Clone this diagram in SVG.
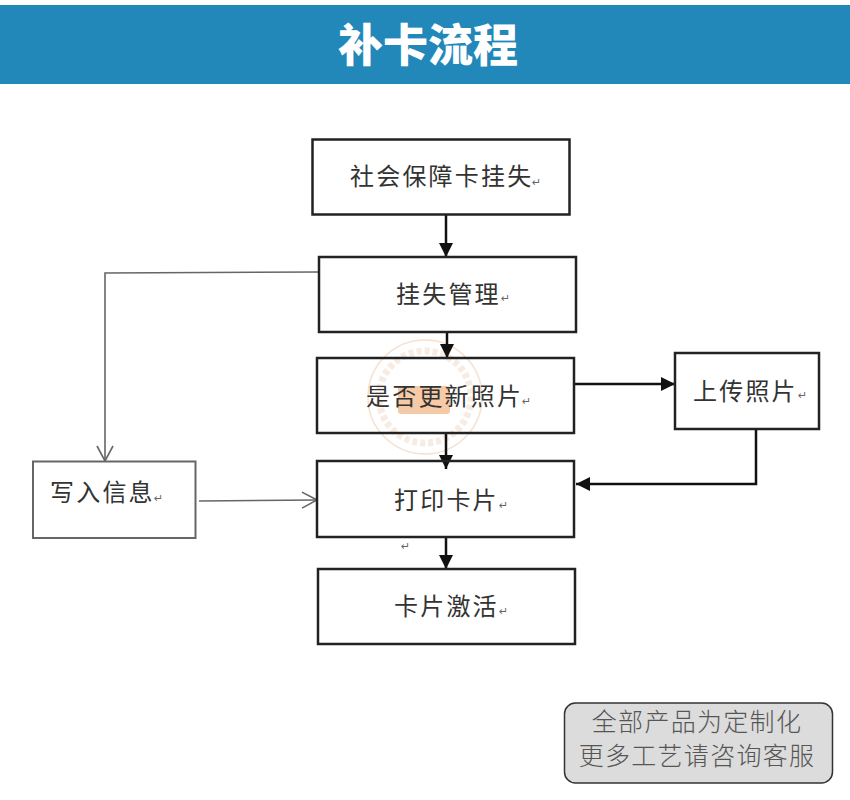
<svg xmlns="http://www.w3.org/2000/svg" width="850" height="800" viewBox="0 0 850 800">
<style>
.box{fill:none;stroke:#222;stroke-width:2.5}
.lbl{font-family:"Noto Sans CJK SC","Liberation Sans",sans-serif;font-size:24px;fill:#333;letter-spacing:2.2px}
.pm{font-family:"DejaVu Sans",sans-serif;font-size:11px;fill:#666}
.note{font-family:"Noto Sans CJK SC","Liberation Sans",sans-serif;font-size:25px;font-weight:300;fill:#555;text-anchor:middle;letter-spacing:1.3px}
.thick{fill:none;stroke:#111;stroke-width:2.5}
.thin{fill:none;stroke:#666;stroke-width:1.6}
</style>
<defs>
<marker id="solid" markerUnits="userSpaceOnUse" markerWidth="15" markerHeight="14" refX="14" refY="7" orient="auto"><path d="M0 0L14 7L0 14Z" fill="#111"/></marker>
<marker id="open" markerUnits="userSpaceOnUse" markerWidth="17" markerHeight="18" refX="16" refY="9" orient="auto"><path d="M1 1L16 9L1 17" fill="none" stroke="#666" stroke-width="1.6"/></marker>
</defs>
<rect x="0" y="0" width="850" height="800" fill="#fff"/>
<g id="header">
<rect x="0" y="5" width="850" height="79" fill="#2288b9"/>
<text x="428" y="62" text-anchor="middle" font-family="'Noto Sans CJK SC',sans-serif" font-size="45" font-weight="900" fill="#fff">补卡流程</text>
</g>
<g id="watermark" opacity="0.55">
<circle cx="425" cy="397" r="57" fill="none" stroke="#eec9ad" stroke-width="1.5"/>
<circle cx="425" cy="397" r="46" fill="none" stroke="#f3dccb" stroke-width="7" stroke-dasharray="5 3"/>
<rect x="398" y="386" width="52" height="28" rx="3" fill="#f0a060"/>
</g>
<g id="connectors">
<path class="thick" d="M446 214V257" marker-end="url(#solid)"/>
<path class="thick" d="M447 332V358" marker-end="url(#solid)"/>
<path class="thick" d="M574 384H675" marker-end="url(#solid)"/>
<path class="thick" d="M446 433V469" marker-end="url(#solid)"/>
<path class="thick" d="M756 429V484H576" marker-end="url(#solid)"/>
<path class="thick" d="M446 537V569" marker-end="url(#solid)"/>
<path class="thin" d="M319 272L105 273V461" marker-end="url(#open)"/>
<path class="thin" d="M199 501L317 500" marker-end="url(#open)"/>
</g>
<g id="node-report-loss"><rect class="box" x="312.500" y="139.500" width="257" height="75"/><text class="lbl" x="350" y="185">社会保障卡挂失</text><text class="pm" x="532" y="186">↵</text></g>
<g id="node-loss-mgmt"><rect class="box" x="319" y="257" width="257" height="75"/><text class="lbl" x="396" y="303">挂失管理</text><text class="pm" x="501" y="302">↵</text></g>
<g id="node-update-photo"><rect class="box" x="317" y="358" width="257" height="75"/><text class="lbl" x="366" y="405">是否更新照片</text><text class="pm" x="522" y="405">↵</text></g>
<g id="node-upload"><rect class="box" x="675" y="353" width="144" height="76"/><text class="lbl" x="693" y="400">上传照片</text><text class="pm" x="798" y="399">↵</text></g>
<g id="node-write"><rect x="33" y="461.500" width="162.500" height="76.500" fill="#fff" stroke="#666" stroke-width="2"/><text class="lbl" x="50" y="501">写入信息</text><text class="pm" x="154" y="502">↵</text></g>
<g id="node-print"><rect class="box" x="317" y="461" width="257" height="76"/><text class="lbl" x="394" y="509">打印卡片</text><text class="pm" x="499" y="509">↵</text></g>
<text class="pm" x="401" y="550">↵</text>
<g id="node-activate"><rect class="box" x="318" y="569" width="257" height="75"/><text class="lbl" x="394" y="615">卡片激活</text><text class="pm" x="499" y="615">↵</text></g>
<g id="note">
<rect x="564.500" y="703" width="268" height="80" rx="11" fill="#dcdcdc" stroke="#333" stroke-width="1.500"/>
<text class="note" x="697" y="731">全部产品为定制化</text>
<text class="note" x="697" y="765">更多工艺请咨询客服</text>
</g>
</svg>
